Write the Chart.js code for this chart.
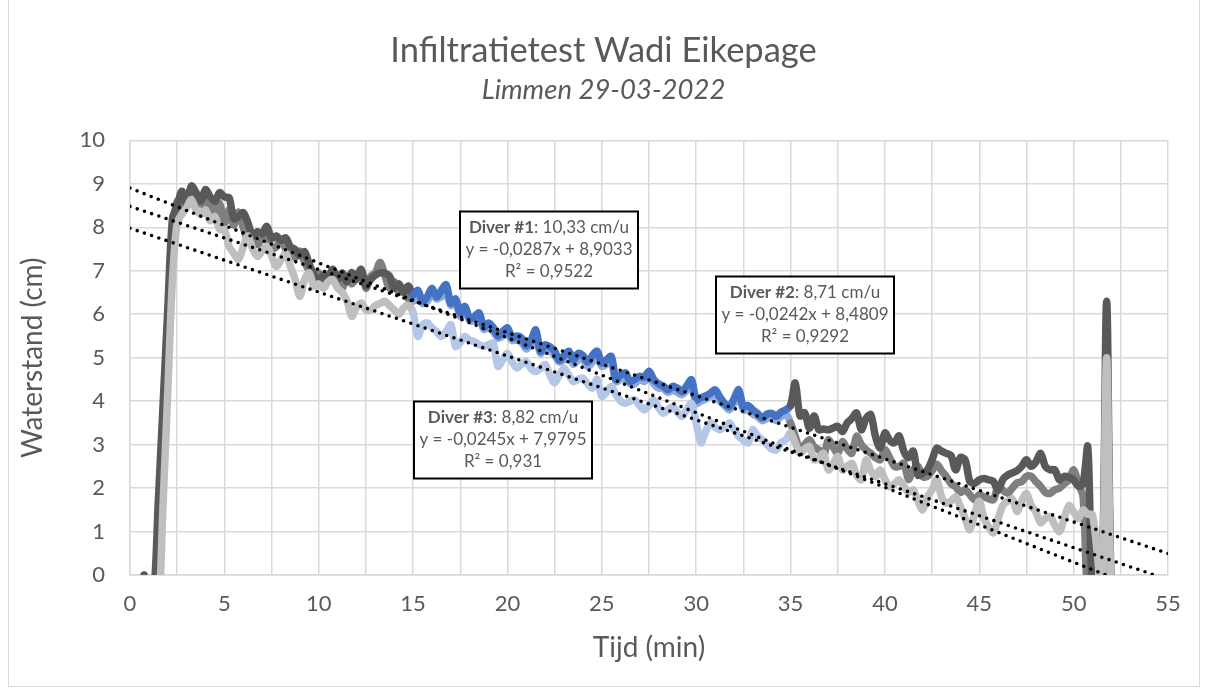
<!DOCTYPE html>
<html>
<head>
<meta charset="utf-8">
<script src="https://cdn.jsdelivr.net/npm/chart.js@4.4.0/dist/chart.umd.min.js"></script>
<style>
  html, body { margin: 0; padding: 0; background: #fff; }
  #wrap { position: relative; width: 1207px; height: 689px; overflow: hidden; }
  #frame { position: absolute; left: 8px; top: -1px; width: 1192px; height: 688px; border: 1px solid #d9d9d9; box-sizing: border-box; }
  canvas { position: absolute; left: 0; top: 0; }
</style>
</head>
<body>
<div id="wrap">
  <div id="frame"></div>
  <canvas id="chart" width="1207" height="689"></canvas>
</div>
<script>
// samples every 15 s, starting at 0,75 min
const firstMinute = 0.75;
const stepMinute = 0.25;

// Diver #1 waterstand (cm)
const diver1 = [
  0, -0.5, -0.5, 1.7, 3.9, 6.1, 8.2, 8.5, 8.83, 8.55, 8.95, 8.8, 8.6, 8.87, 8.7, 8.6, 8.8,
  8.7, 8.68, 8.2, 8.25, 8.34, 8.1, 7.8, 7.9, 7.85, 8.02, 7.75, 7.8, 7.7, 7.76, 7.55, 7.49, 7.35, 7.44, 7.15, 6.9,
  6.75, 6.9, 6.85, 7.03, 6.8, 6.95, 6.75, 6.96, 6.8, 7.03, 6.65, 6.8, 6.9, 6.95, 6.95, 6.88, 6.6, 6.7, 6.5, 6.65,
  6.45, 6.55, 6.3, 6.4, 6.6, 6.4, 6.55, 6.68, 6.25, 6.35, 6.03, 6.18, 5.9, 5.95, 6.03, 5.7, 5.8, 5.69, 5.5, 5.6,
  5.69, 5.45, 5.5, 5.45, 5.27, 5.4, 5.64, 5.15, 5.3, 5.25, 5.15, 4.94, 5.05, 5.15, 4.95, 5.1, 5.05, 4.9, 5.05, 5.15,
  4.88, 4.95, 5.03, 4.5, 4.6, 4.65, 4.45, 4.5, 4.57, 4.55, 4.69, 4.5, 4.4, 4.35, 4.26, 4.34, 4.3, 4.22, 4.35, 4.49,
  4.03, 4.08, 4.12, 4.18, 4.26, 4.1, 3.95, 3.87, 4.05, 4.26, 3.87, 3.9, 3.8, 3.72, 3.61, 3.7, 3.72, 3.65, 3.75, 3.8,
  3.9, 4.42, 3.66, 3.73, 3.38, 3.66, 3.34, 3.36, 3.34, 3.38, 3.42, 3.3, 3.5, 3.6, 3.73, 3.34, 3.6, 3.69, 3.19, 2.92,
  3.27, 3.1, 3.04, 3.2, 2.85, 2.7, 2.85, 2.3, 2.34, 2.42, 2.65, 2.92, 2.85, 2.8, 2.75, 2.42, 2.7, 2.65, 2.15, 2.11,
  2.19, 2.22, 2.19, 2.15, 1.95, 2.2, 2.3, 2.35, 2.4, 2.5, 2.65, 2.5, 2.6, 2.8, 2.5, 2.42, 2.42, 2.19, 2.27, 2.25,
  2.19, 2.04, 2.11, 2.95, -0.5, -0.5, -0.5, 6.3, -0.5, -0.5
];

// Diver #2 waterstand (cm)
const diver2 = [
  -0.5, -0.5, -0.5, 0.8, 3.2, 5.6, 7.8, 8.6, 8.4, 8.7, 8.85, 8.5, 8.7, 8.4, 8.65, 8.3, 8.55,
  8.1, 8.4, 8.05, 8.35, 8.0, 7.7, 7.85, 7.6, 7.75, 7.85, 7.5, 7.55, 7.72, 7.5, 7.4, 7.3, 7.45, 7.2, 7.0, 6.87,
  6.95, 6.7, 6.85, 7.03, 6.75, 6.6, 6.87, 6.7, 6.85, 7.03, 6.6, 6.87, 6.95, 7.19, 6.9, 6.6, 6.75, 6.5, 6.6, 6.35,
  6.3, 6.45, 6.25, 6.3, 6.45, 6.35, 6.4, 6.5, 6.2, 6.25, 5.95, 6.05, 5.85, 5.85, 5.9, 5.65, 5.7, 5.6, 5.45, 5.5,
  5.55, 5.4, 5.4, 5.35, 5.2, 5.3, 5.45, 5.1, 5.2, 5.15, 5.05, 4.9, 4.95, 5.05, 4.85, 4.95, 4.95, 4.8, 4.9, 5.0,
  4.8, 4.85, 4.9, 4.45, 4.5, 4.55, 4.4, 4.4, 4.5, 4.45, 4.55, 4.4, 4.3, 4.3, 4.2, 4.25, 4.2, 4.15, 4.25, 4.35,
  3.95, 4.0, 4.05, 4.1, 4.15, 4.0, 3.9, 3.8, 3.95, 4.1, 3.8, 3.8, 3.7, 3.65, 3.55, 3.6, 3.65, 3.55, 3.65, 3.7,
  3.5, 3.19, 2.88, 3.0, 3.11, 2.95, 2.88, 2.73, 3.11, 2.95, 2.8, 3.07, 2.9, 2.8, 3.19, 3.0, 2.88, 2.8, 2.7, 2.65,
  2.88, 2.7, 2.5, 2.5, 2.57, 2.2, 2.42, 2.5, 2.26, 2.27, 2.4, 2.55, 2.4, 2.27, 2.1, 2.03, 1.9, 1.96, 1.85, 1.73,
  1.85, 1.8, 1.75, 1.73, 2.04, 1.95, 1.88, 2.0, 2.12, 2.15, 2.27, 2.27, 2.15, 2.04, 1.9, 1.88, 1.96, 2.0, 2.1, 2.19,
  2.42, 2.1, 1.8, -0.5, -0.5, -0.5, -0.5, 4.8, -0.5, -0.5
];

// Diver #3 waterstand (cm)
const diver3 = [
  -0.5, -0.5, -0.5, -0.9, 1.6, 4.2, 6.8, 8.1, 8.3, 8.45, 8.64, 8.4, 8.3, 8.4, 8.15, 8.25, 7.95,
  7.95, 7.56, 7.4, 7.26, 7.55, 7.8, 7.5, 7.33, 7.45, 7.56, 7.35, 7.1, 7.25, 7.4, 7.1, 6.8, 6.41, 6.8, 6.95, 6.64,
  6.7, 6.6, 6.75, 6.8, 6.6, 6.5, 6.3, 5.95, 6.15, 6.26, 6.1, 6.1, 6.2, 6.25, 6.3, 6.2, 6.1, 6.0, 6.15, 6.2,
  6.03, 5.49, 5.75, 5.8, 5.69, 5.6, 5.49, 5.6, 5.76, 5.26, 5.35, 5.49, 5.4, 5.37, 5.3, 5.26, 5.3, 5.33, 4.8, 4.95,
  5.1, 4.9, 4.76, 4.85, 4.91, 4.75, 4.68, 4.75, 4.84, 4.6, 4.42, 4.6, 4.76, 4.6, 4.45, 4.5, 4.53, 4.4, 4.3, 4.5,
  4.11, 4.2, 4.34, 4.15, 4.0, 3.95, 4.0, 4.03, 3.9, 3.8, 3.9, 4.03, 3.85, 3.72, 3.8, 3.87, 3.75, 3.65, 3.8, 3.95,
  3.5, 3.04, 3.3, 3.5, 3.4, 3.34, 3.4, 3.5, 3.35, 3.19, 3.1, 3.04, 3.34, 3.2, 3.11, 3.0, 2.9, 2.88, 3.05, 3.11,
  3.27, 3.04, 2.8, 2.9, 2.96, 2.65, 2.7, 2.8, 2.42, 2.55, 2.73, 2.42, 2.5, 2.57, 2.3, 2.19, 2.65, 2.4, 2.26, 2.42,
  2.2, 2.03, 2.1, 2.19, 2.05, 1.9, 1.96, 1.7, 1.5, 1.8, 1.96, 2.2, 1.8, 1.65, 1.7, 1.8, 1.57, 1.3, 1.04, 1.4,
  1.7, 1.3, 1.1, 0.97, 1.3, 1.6, 1.7, 1.75, 1.46, 1.7, 1.88, 1.6, 1.45, 1.2, 1.3, 1.35, 1.15, 1.0, 1.3, 1.6,
  1.45, 1.3, 1.5, 1.4, 1.38, 0.5, -0.5, 5.0, -0.5, -0.5
];

// trendlines as given by Excel (x counted in 10 s samples)
const diverNames = ["Diver #1", "Diver #2", "Diver #3"];
const trendSlopes = [-0.0287, -0.0242, -0.0245];
const trendIntercepts = [8.9033, 8.4809, 7.9795];
const rates = ["10,33", "8,71", "8,82"];
const rSquared = ["0,9522", "0,9292", "0,931"];
const samplesPerMinute = 6;

// fitted window, drawn in blue
const fitStart = 15;
const fitEnd = 35;

const xMin = 0, xMax = 55;

// label boxes, centre in (min, cm)
const labelSpots = [[22.2, 7.47], [35.74, 5.98], [19.74, 3.11]];

const minutes = diver1.map((_, i) => firstMinute + i * stepMinute);
const toPoints = (values) => values.map((v, i) => ({ x: minutes[i], y: v }));

const textColor = "#595959";
const gridColor = "#d9d9d9";
const font = "Lato";

const series = (label, values, gray, blue) => ({
  label,
  data: toPoints(values),
  borderColor: gray,
  borderWidth: 7.5,
  tension: 0.3,
  pointRadius: 0,
  borderJoinStyle: "round",
  borderCapStyle: "round",
  clip: 0,
  segment: {
    borderColor: (ctx) =>
      ctx.p0.parsed.x >= fitStart && ctx.p1.parsed.x <= fitEnd ? blue : undefined,
  },
});

const trend = (i) => ({
  label: "trend " + diverNames[i],
  data: [xMin, xMax].map((x) => ({
    x,
    y: trendIntercepts[i] + trendSlopes[i] * samplesPerMinute * x,
  })),
  borderColor: "#000",
  borderWidth: 3.6,
  borderDash: [0, 7.6],
  borderCapStyle: "round",
  pointRadius: 0,
  tension: 0,
  clip: 0,
});

const boxPlugin = {
  id: "fitBoxes",
  afterDatasetsDraw(chart) {
    const { ctx, scales } = chart;
    const w = 178, h = 77, lh = 22;
    labelSpots.forEach(([mx, my], i) => {
      const cx = Math.round(scales.x.getPixelForValue(mx));
      const cy = Math.round(scales.y.getPixelForValue(my));
      ctx.save();
      ctx.fillStyle = "#fff";
      ctx.fillRect(cx - w / 2, cy - h / 2, w, h);
      ctx.strokeStyle = "#000";
      ctx.lineWidth = 2;
      ctx.strokeRect(cx - w / 2, cy - h / 2, w, h);
      ctx.fillStyle = textColor;
      ctx.textBaseline = "middle";

      const boldPart = diverNames[i];
      const restPart = ": " + rates[i] + " cm/u";
      ctx.font = "bold 17px " + font;
      const bw = ctx.measureText(boldPart).width;
      ctx.font = "17px " + font;
      const rw = ctx.measureText(restPart).width;
      let x0 = cx - (bw + rw) / 2;
      ctx.textAlign = "left";
      ctx.font = "bold 17px " + font;
      ctx.fillText(boldPart, x0, cy - lh);
      ctx.font = "17px " + font;
      ctx.fillText(restPart, x0 + bw, cy - lh);

      ctx.textAlign = "center";
      const sign = trendIntercepts[i] >= 0 ? " + " : " - ";
      const eq = "y = " + trendSlopes[i].toFixed(4).replace(".", ",") + "x" + sign +
        Math.abs(trendIntercepts[i]).toFixed(4).replace(".", ",");
      ctx.fillText(eq, cx, cy);
      ctx.fillText("R² = " + rSquared[i], cx, cy + lh);
      ctx.restore();
    });
  },
};

new Chart(document.getElementById("chart"), {
  type: "line",
  data: {
    datasets: [
      trend(0),
      trend(1),
      trend(2),
      series("Diver #3", diver3, "#bfbfbf", "#b4c7e7"),
      series("Diver #1", diver1, "#595959", "#4472c4"),
      series("Diver #2", diver2, "#7f7f7f", "#8faadc"),
    ],
  },
  options: {
    responsive: false,
    animation: false,
    layout: { padding: { top: 20, right: 0, bottom: 0, left: 0 } },
    plugins: {
      legend: { display: false },
      tooltip: { enabled: false },
      title: {
        display: true,
        text: "Infiltratietest Wadi Eikepage",
        color: textColor,
        font: { family: font, size: 34.5, weight: "normal" },
        padding: { top: 10, bottom: 2 },
      },
      subtitle: {
        display: true,
        text: "Limmen 29-03-2022",
        color: textColor,
        font: { family: font, size: 27.5, style: "italic" },
        padding: { top: 0, bottom: 34 },
      },
    },
    scales: {
      x: {
        type: "linear",
        min: xMin,
        max: xMax,
        afterFit: (s) => { s.height = 114; },
        grid: { color: gridColor, lineWidth: 1.5, drawTicks: false },
        border: { color: gridColor, width: 1.5 },
        ticks: {
          stepSize: 2.5,
          autoSkip: false,
          maxRotation: 0,
          padding: 16,
          color: textColor,
          font: { family: font, size: 22 },
          callback: (v) => (v % 5 === 0 ? v : ""),
        },
        title: {
          display: true,
          text: "Tijd (min)",
          color: textColor,
          font: { family: font, size: 28 },
          padding: { top: 0, bottom: 24 },
        },
      },
      y: {
        min: 0,
        max: 10,
        afterFit: (s) => { s.width = 130; },
        grid: { color: gridColor, lineWidth: 1.5, drawTicks: false },
        border: { color: gridColor, width: 1.5 },
        ticks: {
          stepSize: 1,
          padding: 25,
          color: textColor,
          font: { family: font, size: 22 },
        },
        title: {
          display: true,
          text: "Waterstand (cm)",
          color: textColor,
          font: { family: font, size: 28 },
          padding: { top: 16, bottom: 0 },
        },
      },
      // empty strip right of the plot, keeps the titles centred on the whole chart
      spare: {
        type: "linear",
        position: "right",
        afterFit: (s) => { s.width = 39; },
        grid: { display: false },
        border: { display: false },
        ticks: { display: false },
      },
    },
  },
  plugins: [boxPlugin],
});
</script>
</body>
</html>
